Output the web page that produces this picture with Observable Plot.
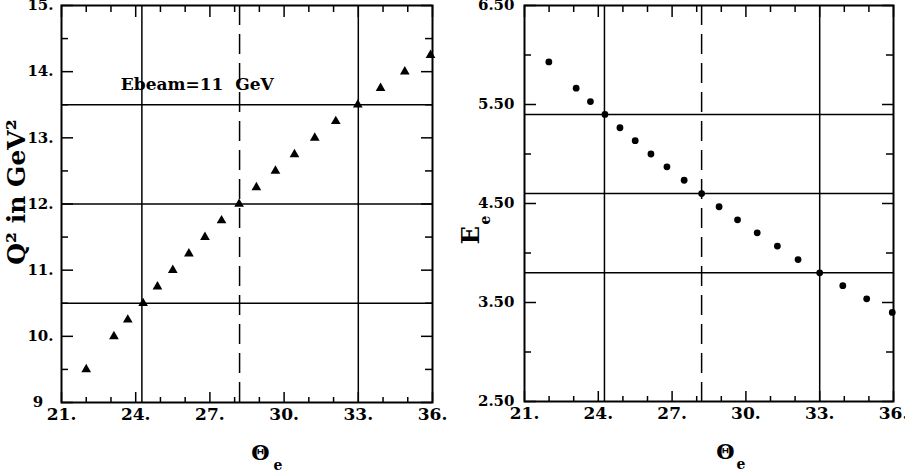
<!DOCTYPE html>
<html><head><meta charset="utf-8">
<script src="https://cdn.jsdelivr.net/npm/d3@7"></script>
<script src="https://cdn.jsdelivr.net/npm/@observablehq/plot@0.6"></script>
<style>
body{margin:0;background:#fff;overflow:hidden}
#wrap{display:flex;width:905px;height:471px;background:#fff}
#wrap svg{flex:none}
</style></head><body><div id="wrap"></div>
<script>
// Left panel: Q^2 vs electron angle (Ebeam = 11 GeV)
const thetaQ = [22.0, 23.12, 23.68, 24.3, 24.88, 25.5, 26.15, 26.8, 27.47, 28.18, 28.88, 29.65, 30.42, 31.24, 32.09, 32.98, 33.9, 34.88, 35.92];
const q2 = [9.5, 10.0, 10.25, 10.5, 10.75, 11.0, 11.25, 11.5, 11.75, 12.0, 12.25, 12.5, 12.75, 13.0, 13.25, 13.5, 13.75, 14.0, 14.25];
// Right panel: scattered electron energy vs angle
const thetaE = [21.99, 23.1, 23.68, 24.27, 24.88, 25.5, 26.14, 26.79, 27.49, 28.2, 28.91, 29.66, 30.46, 31.28, 32.12, 33.0, 33.94, 34.91, 35.95];
const eprime = [5.93, 5.665, 5.53, 5.40, 5.265, 5.135, 5.0, 4.87, 4.735, 4.6, 4.467, 4.335, 4.204, 4.07, 3.934, 3.80, 3.67, 3.537, 3.40];

// reference lines
const vSolid = [24.25, 33.0];
const vDashed = [28.2];
const q2Lines = [10.5, 12.0, 13.5];
const eLines = [5.4, 4.6, 3.8];

// ticks
const xDomain = [21, 36];
const xMajor = [21, 24, 27, 30, 33, 36];
const xMinor = [22, 23, 25, 26, 28, 29, 31, 32, 34, 35];
const xLabels = ["21.", "24.", "27.", "30.", "33.", "36."];
const q2Domain = [9, 15];
const q2Major = [9, 10, 11, 12, 13, 14, 15];
const q2Minor = [9.5, 10.5, 11.5, 12.5, 13.5, 14.5];
const q2Labels = ["9\u2007", "10.", "11.", "12.", "13.", "14.", "15."];
const eDomain = [2.5, 6.5];
const eMajor = [2.5, 3.5, 4.5, 5.5, 6.5];
const eMinor = [3, 4, 5, 6];
const eLabels = ["2.50", "3.50", "4.50", "5.50", "6.50"];

const annotation = [{x: 23.4, y: 13.8, text: "Ebeam=11  GeV"}];

const FONT = "DejaVu Serif";
const H = 471, MT = 5;
const lab = (vals, labels) => d => labels[vals.indexOf(d)];

// inward frame ticks as short rules; pixel lengths converted to data units
function frameMarks({yDomain, yMajor, yMinor, yLabels, yPad, fw, fh}) {
  const st = {stroke: "black", strokeWidth: 1.5};
  const [x0, x1] = xDomain, [y0, y1] = yDomain;
  const ux = (x1 - x0) / fw, uy = (y1 - y0) / fh;
  const bx = (vals, len) => Plot.ruleX(vals, {...st, x: d => d, y1: () => y0, y2: () => y0 + len * uy});
  const tx = (vals, len) => Plot.ruleX(vals, {...st, x: d => d, y1: () => y1 - len * uy, y2: () => y1});
  const ly = (vals, len) => Plot.ruleY(vals, {...st, y: d => d, x1: () => x0, x2: () => x0 + len * ux});
  const ry = (vals, len) => Plot.ruleY(vals, {...st, y: d => d, x1: () => x1 - len * ux, x2: () => x1});
  return [
    bx(xMajor, 10), bx(xMinor, 5),
    tx(xMajor, 12), tx(xMinor, 7),
    ly(yMajor, 12), ly(yMinor, 7),
    ry(yMajor, 11), ry(yMinor, 7),
    Plot.axisX(xMajor, {anchor: "bottom", tickSize: 0, tickPadding: 5, tickFormat: lab(xMajor, xLabels), label: null,
      fontSize: 17, fontWeight: "bold", fontFamily: FONT, fill: "black"}),
    Plot.axisY(yMajor, {anchor: "left", tickSize: 0, tickPadding: yPad, tickFormat: lab(yMajor, yLabels), label: null,
      fontSize: 15, fontWeight: "bold", fontFamily: FONT, fill: "black"}),
    Plot.frame({stroke: "black", strokeWidth: 2})
  ];
}

const T = {fontWeight: "bold", fontFamily: FONT, fill: "black", textAnchor: "middle", lineAnchor: "middle"};

const common = {
  height: H,
  marginTop: MT,
  x: {domain: xDomain, nice: false},
  style: {fontFamily: FONT, fontWeight: "bold", background: "#fff", color: "black", overflow: "visible"}
};

const leftData = thetaQ.map((t, i) => ({theta: t, q2: q2[i]}));
const rightData = thetaE.map((t, i) => ({theta: t, e: eprime[i]}));

const L = {width: 452, marginLeft: 61, marginRight: 20, marginBottom: 69};
const R = {width: 453, marginLeft: 72, marginRight: 12, marginBottom: 70};

const left = Plot.plot({
  ...common, ...L,
  y: {domain: q2Domain, nice: false},
  marks: [
    Plot.ruleY(q2Lines, {stroke: "black", strokeWidth: 1.5}),
    Plot.ruleX(vSolid, {stroke: "black", strokeWidth: 1.5}),
    Plot.ruleX(vDashed, {stroke: "black", strokeWidth: 1.5, strokeDasharray: "20,9"}),
    ...frameMarks({yDomain: q2Domain, yMajor: q2Major, yMinor: q2Minor, yLabels: q2Labels, yPad: 8,
      fw: L.width - L.marginLeft - L.marginRight, fh: H - MT - L.marginBottom}),
    Plot.dot(leftData, {x: "theta", y: "q2", symbol: "triangle", r: 3.6, fill: "black", stroke: "none"}),
    Plot.text(annotation, {x: "x", y: "y", text: "text", ...T, textAnchor: "start", fontSize: 17}),
    Plot.text(["Q² in GeV²"], {frameAnchor: "left", ...T, rotate: -90, dx: -45, dy: -12, fontSize: 25}),
    Plot.text(["Θ"], {frameAnchor: "bottom", ...T, dx: 13.5, dy: 51, fontSize: 21}),
    Plot.text(["e"], {frameAnchor: "bottom", ...T, textAnchor: "start", dx: 26.5, dy: 63, fontSize: 14})
  ]
});

const right = Plot.plot({
  ...common, ...R,
  y: {domain: eDomain, nice: false},
  marks: [
    Plot.ruleY(eLines, {stroke: "black", strokeWidth: 1.5}),
    Plot.ruleX(vSolid, {stroke: "black", strokeWidth: 1.5}),
    Plot.ruleX(vDashed, {stroke: "black", strokeWidth: 1.5, strokeDasharray: "20,9"}),
    ...frameMarks({yDomain: eDomain, yMajor: eMajor, yMinor: eMinor, yLabels: eLabels, yPad: 10,
      fw: R.width - R.marginLeft - R.marginRight, fh: H - MT - R.marginBottom}),
    Plot.dot(rightData, {x: "theta", y: "e", r: 3.4, fill: "black", stroke: "none"}),
    Plot.text(["E"], {frameAnchor: "left", ...T, rotate: -90, dx: -53, dy: 31.5, fontSize: 24}),
    Plot.text(["e"], {frameAnchor: "left", ...T, rotate: -90, dx: -38.5, dy: 16.5, fontSize: 14}),
    Plot.text(["Θ"], {frameAnchor: "bottom", ...T, dx: 16.5, dy: 51, fontSize: 21}),
    Plot.text(["e"], {frameAnchor: "bottom", ...T, textAnchor: "start", dx: 27.5, dy: 63, fontSize: 14})
  ]
});

document.getElementById("wrap").append(left, right);
</script></body></html>
